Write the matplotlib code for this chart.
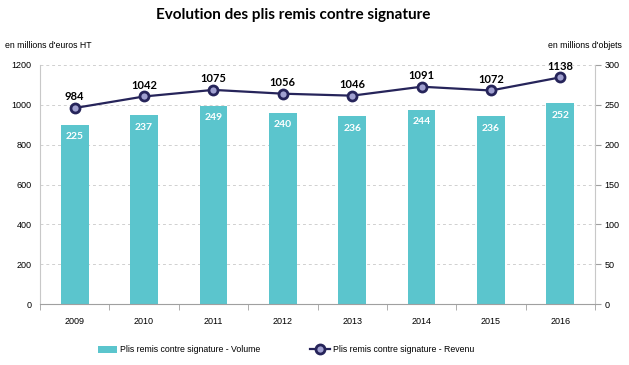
import matplotlib.pyplot as plt
import numpy as np

years = ["2009", "2010", "2011", "2012", "2013", "2014", "2015", "2016"]
volume = [225, 237, 249, 240, 236, 244, 236, 252]          # millions d'objets (right axis)
revenue = [984, 1042, 1075, 1056, 1046, 1091, 1072, 1138]  # millions d'euros HT (left axis)

bar_color = "#5BC5CD"
line_color = "#26245A"
x = np.arange(len(years))

plt.rcParams["font.family"] = ["Liberation Sans", "DejaVu Sans"]

fig = plt.figure(figsize=(6.29, 3.65), dpi=100)
ax = fig.add_axes([40 / 629, 1 - 304 / 365, 555 / 629, 239 / 365])
ax2 = ax.twinx()

# bars on right axis, line on left axis -> draw bars on ax2 behind line
ax.set_zorder(ax2.get_zorder() + 1)
ax.patch.set_visible(False)

bars = ax2.bar(x, volume, width=0.4, color=bar_color, zorder=2)
for xi, v in zip(x, volume):
    ax2.text(xi, v - 9.5, str(v), ha="center", va="top", color="white",
             fontsize=7.5, fontweight="bold", family="Lato")

line, = ax.plot(x, revenue, color=line_color, lw=1.6, marker="o", ms=6.5,
                mfc="#A0A0D0", mec=line_color, mew=2)
for xi, v in zip(x, revenue):
    ax.text(xi, v + 28, str(v), ha="center", va="bottom", color="black",
            fontsize=8, fontweight="bold", family="Lato")

ax.set_ylim(0, 1200)
ax.set_yticks(range(0, 1201, 200))
ax2.set_ylim(0, 300)
ax2.set_yticks(range(0, 301, 50))
ax.set_xlim(-0.5, len(years) - 0.5)

ax2.yaxis.grid(True, ls=(0, (3, 3)), color="#D0D0D0", lw=0.7)
ax2.set_axisbelow(True)

ax.set_xticks(x)
ax.set_xticklabels(years)
ax.set_xticks(np.arange(-0.5, len(years)), minor=True)
ax.tick_params(axis="x", which="major", length=0, labelsize=6.5, pad=9)
ax.tick_params(axis="x", which="minor", length=4, color="#A0A0A0", direction="out")
ax.tick_params(axis="y", length=0, labelsize=6.5, pad=6)
ax2.tick_params(axis="y", length=4, color="#A0A0A0", labelsize=6.5, pad=3)

for a in (ax, ax2):
    a.spines["top"].set_visible(False)
    a.spines["left"].set_color("#C8C8C8")
    a.spines["right"].set_color("#C8C8C8")
    a.spines["bottom"].set_color("#A0A0A0")
ax.spines["right"].set_visible(False)
ax2.spines["left"].set_visible(False)
ax2.spines["bottom"].set_visible(False)

fig.text(293 / 629, 1 - 15 / 365, "Evolution des plis remis contre signature",
         ha="center", va="center", fontsize=11, fontweight="bold", family="Lato")
fig.text(5 / 629, 1 - 46 / 365, "en millions d'euros HT", ha="left", va="center", fontsize=6.3)
fig.text(622 / 629, 1 - 46 / 365, "en millions d'objets", ha="right", va="center", fontsize=6.3)

fig.legend([bars, line], ["Plis remis contre signature - Volume", "Plis remis contre signature - Revenu"],
           loc="center", bbox_to_anchor=(286 / 629, 1 - 350 / 365), ncol=2, frameon=False,
           fontsize=6.3, columnspacing=5.7, handlelength=2.2, handleheight=0.8,
           handletextpad=0.4)

fig.savefig("out.png", dpi=100)
